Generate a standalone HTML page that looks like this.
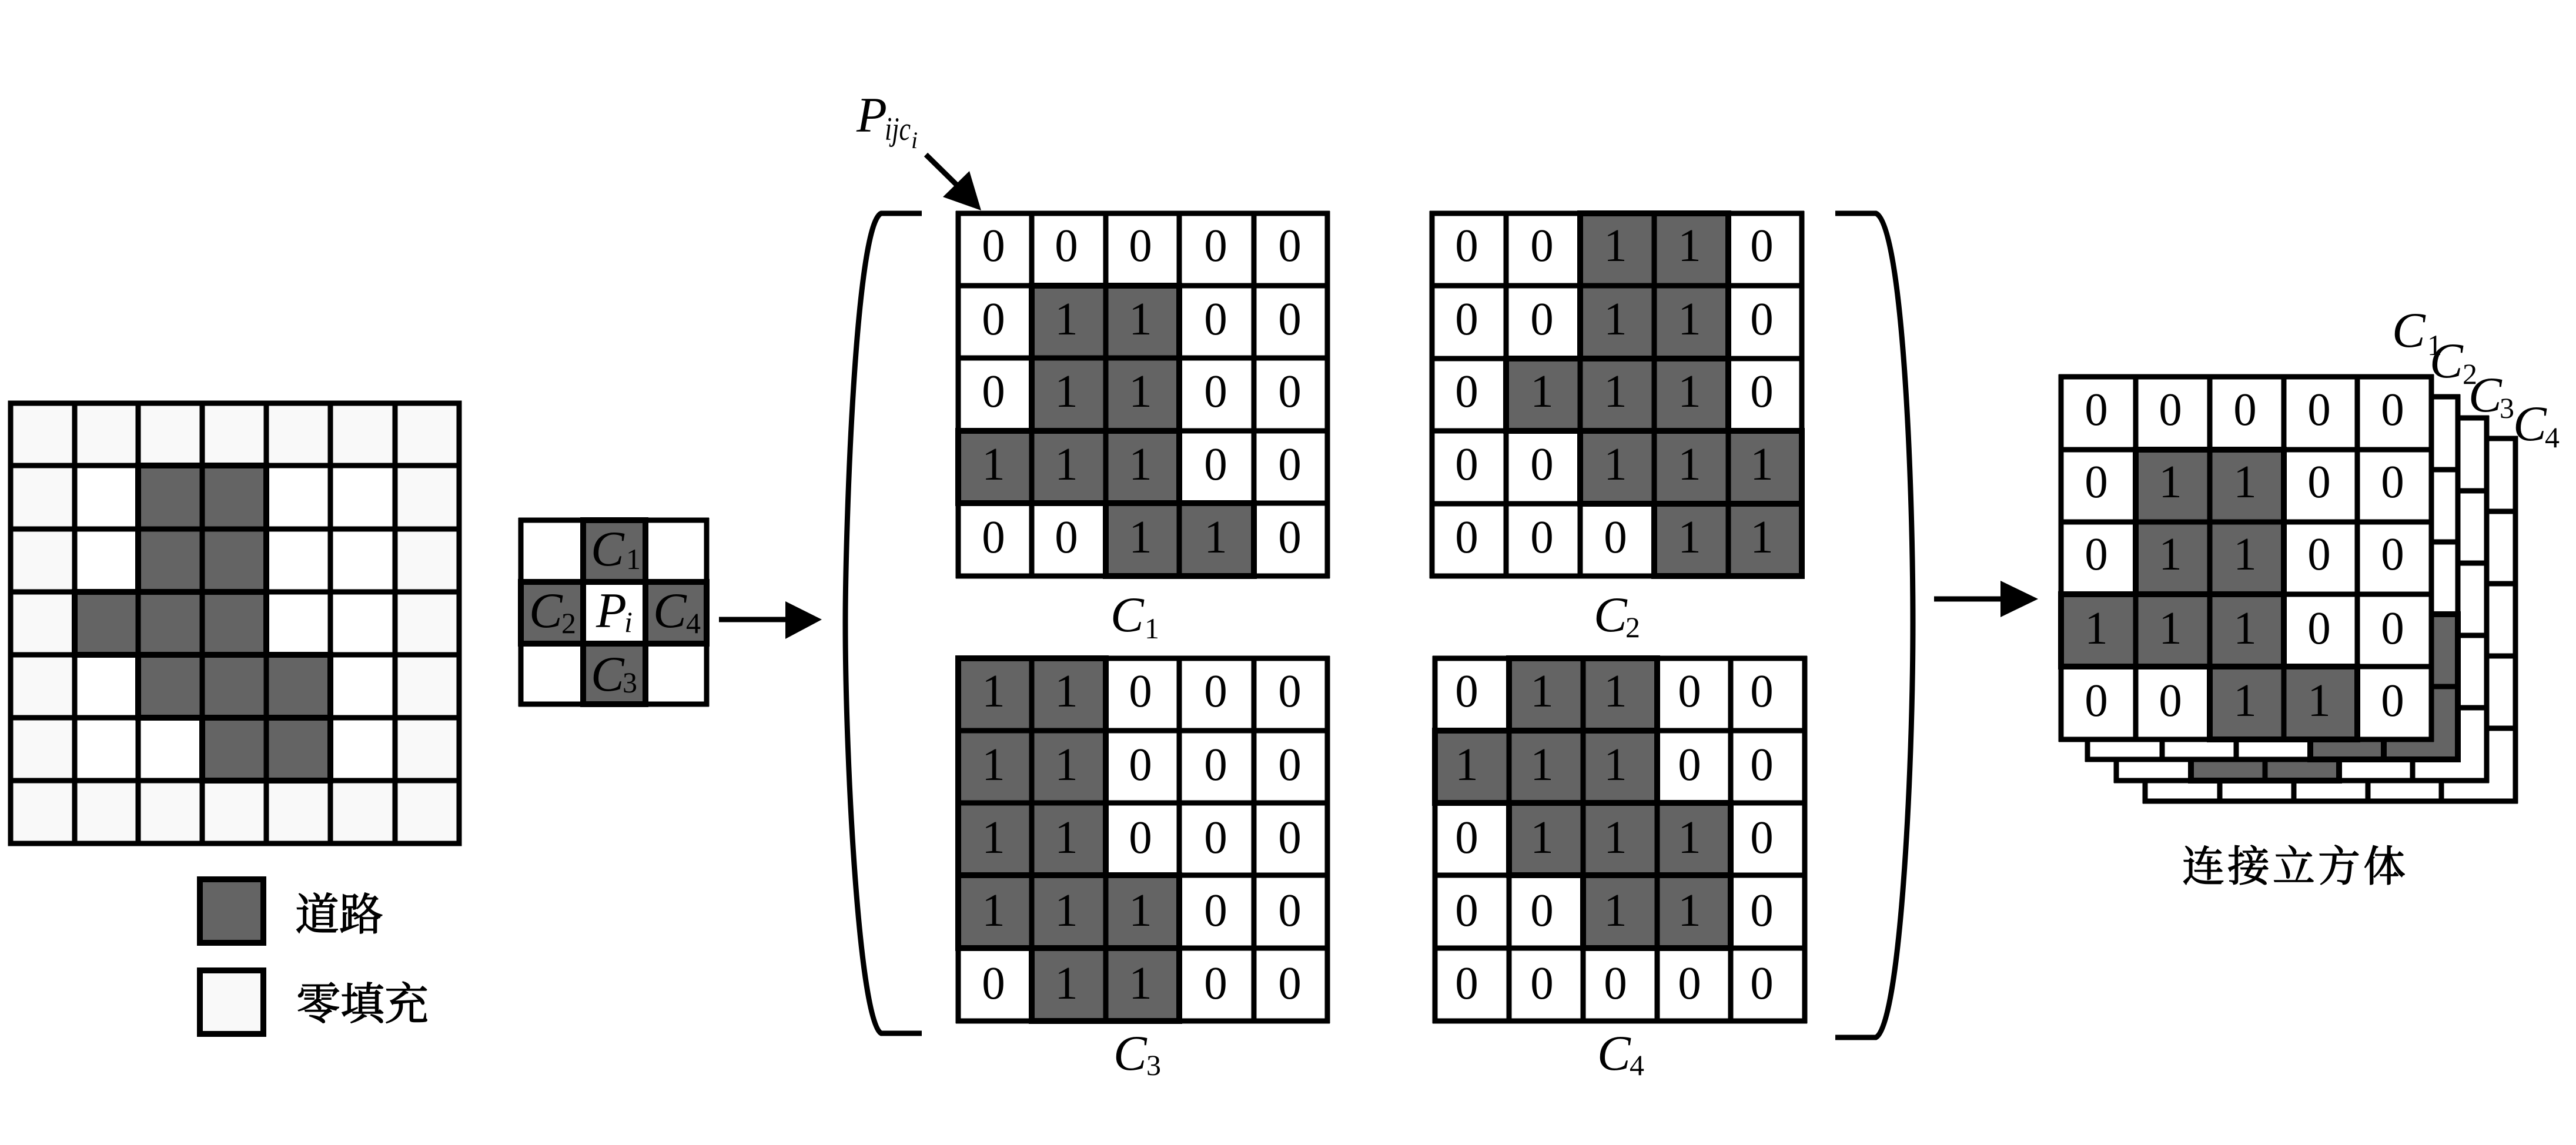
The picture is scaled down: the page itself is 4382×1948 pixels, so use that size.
<!DOCTYPE html>
<html><head><meta charset="utf-8"><style>
html,body{margin:0;padding:0;background:#fff}
svg{display:block}
.g{fill:#646464;stroke:#000;stroke-width:10}
.l{fill:none;stroke:#000;stroke-width:9}
.n{font-family:"Liberation Serif",serif;font-size:79px;text-anchor:middle;fill:#000}
.i{font-family:"Liberation Serif",serif;font-style:italic;font-size:85px;fill:#000}
.s{font-family:"Liberation Serif",serif;font-size:50px;fill:#000}
.z{font-family:"Liberation Serif","Noto Serif CJK SC",serif;fill:#000;stroke:#000;stroke-width:1.5}
</style></head><body>
<svg xmlns="http://www.w3.org/2000/svg" width="4382" height="1948" viewBox="0 0 4382 1948">
<rect width="4382" height="1948" fill="#fff"/>

<!-- Left map -->
<rect x="18" y="686" width="763" height="749" fill="#f9f9f9"/>
<rect x="127" y="792" width="545" height="536" fill="#fff"/>
<rect class="g" x="235" y="792" width="218" height="215"/>
<rect class="g" x="127" y="1007" width="326" height="107"/>
<rect class="g" x="235" y="1114" width="327" height="107"/>
<rect class="g" x="344" y="1221" width="218" height="107"/>
<path class="l" d="M18 686V1435M127 686V1435M235 686V1435M344 686V1435M453 686V1435M562 686V1435M672 686V1435M781 686V1435M13.500 686H785.500M14 792H785M14 900H785M14 1007H785M14 1114H785M14 1221H785M14 1328H785M13.500 1435H785.500"/>

<!-- Legend -->
<rect x="340" y="1496" width="108" height="108" fill="#646464" stroke="#000" stroke-width="10"/>
<rect x="340" y="1651" width="108" height="108" fill="#f9f9f9" stroke="#000" stroke-width="10"/>
<text class="z" x="502" y="1582" font-size="75">道路</text>
<text class="z" x="504" y="1734" font-size="75">零填充</text>

<!-- Neighbourhood -->
<rect class="g" x="992" y="885" width="106" height="105"/>
<rect class="g" x="886" y="990" width="106" height="105"/>
<rect class="g" x="1098" y="990" width="104" height="105"/>
<rect class="g" x="992" y="1095" width="106" height="103"/>
<path class="l" d="M886 881V1202M992 881V1202M1098 881V1202M1202 881V1202M882 885H1206M882 990H1206M882 1095H1206M882 1198H1206"/>
<text class="i" x="1005" y="962">C</text><text class="s" x="1065" y="968">1</text>
<text class="i" x="900" y="1067">C</text><text class="s" x="955" y="1077">2</text>
<text class="i" x="1014" y="1067">P</text><text class="s" x="1062" y="1075" font-style="italic">i</text>
<text class="i" x="1111" y="1067">C</text><text class="s" x="1167" y="1077">4</text>
<text class="i" x="1005" y="1175">C</text><text class="s" x="1059" y="1178">3</text>

<!-- Arrow 1 -->
<path class="l" d="M1223 1054H1345"/>
<path d="M1336 1023L1398 1054L1336 1087Z" fill="#000"/>

<!-- Brackets -->
<path class="l" d="M1568 363H1499C1455 380 1438 900 1438 1060C1438 1300 1462 1740 1499 1758H1568"/>
<path class="l" d="M3122 363H3191C3235 380 3254 800 3254 1060C3254 1320 3232 1745 3191 1765H3122"/>

<!-- P_ijc_i -->
<text class="i" x="1457" y="224">P</text>
<text class="s" x="1505" y="238" font-style="italic" style="font-size:56px" textLength="44" lengthAdjust="spacingAndGlyphs">ijc</text>
<text class="s" x="1550" y="252" font-style="italic" style="font-size:40px">i</text>
<path class="l" d="M1575 263L1632 319"/>
<path d="M1669 358L1604 335L1649 291Z" fill="#000"/>

<!-- C1 -->
<rect class="g" x="1755" y="486" width="251" height="247"/>
<rect class="g" x="1630" y="733" width="376" height="123"/>
<rect class="g" x="1881" y="856" width="252" height="124"/>
<path class="l" d="M1630 359V984M1755 359V984M1881 359V984M2006 359V984M2133 359V984M2258 359V984M1626 363H2262M1626 486H2262M1626 609H2262M1626 733H2262M1626 856H2262M1626 980H2262"/>
<text class="n" x="1690 1814 1940 2068 2194" y="444">00000</text>
<text class="n" x="1690 1814 1940 2068 2194" y="569">01100</text>
<text class="n" x="1690 1814 1940 2068 2194" y="692">01100</text>
<text class="n" x="1690 1814 1940 2068 2194" y="816">11100</text>
<text class="n" x="1690 1814 1940 2068 2194" y="940">00110</text>
<text class="i" x="1889" y="1074">C</text><text class="s" x="1947" y="1086">1</text>

<!-- C2 -->
<rect class="g" x="2688" y="363" width="252" height="247"/>
<rect class="g" x="2562" y="610" width="378" height="123"/>
<rect class="g" x="2688" y="733" width="377" height="124"/>
<rect class="g" x="2814" y="857" width="251" height="123"/>
<path class="l" d="M2436 359V984M2562 359V984M2688 359V984M2814 359V984M2940 359V984M3065 359V984M2432 363H3069M2432 486H3069M2432 610H3069M2432 733H3069M2432 857H3069M2432 980H3069"/>
<text class="n" x="2495 2623 2748 2874 2997" y="444">00110</text>
<text class="n" x="2495 2623 2748 2874 2997" y="569">00110</text>
<text class="n" x="2495 2623 2748 2874 2997" y="692">01110</text>
<text class="n" x="2495 2623 2748 2874 2997" y="816">00111</text>
<text class="n" x="2495 2623 2748 2874 2997" y="940">00011</text>
<text class="i" x="2711" y="1074">C</text><text class="s" x="2765" y="1084">2</text>

<!-- C3 -->
<rect class="g" x="1630" y="1120" width="251" height="369"/>
<rect class="g" x="1630" y="1489" width="376" height="124"/>
<rect class="g" x="1755" y="1613" width="251" height="124"/>
<path class="l" d="M1630 1116V1741M1755 1116V1741M1881 1116V1741M2006 1116V1741M2133 1116V1741M2258 1116V1741M1626 1120H2262M1626 1243H2262M1626 1366H2262M1626 1489H2262M1626 1613H2262M1626 1737H2262"/>
<text class="n" x="1690 1814 1940 2068 2194" y="1202">11000</text>
<text class="n" x="1690 1814 1940 2068 2194" y="1327">11000</text>
<text class="n" x="1690 1814 1940 2068 2194" y="1451">11000</text>
<text class="n" x="1690 1814 1940 2068 2194" y="1575">11100</text>
<text class="n" x="1690 1814 1940 2068 2194" y="1699">01100</text>
<text class="i" x="1894" y="1820">C</text><text class="s" x="1950" y="1829">3</text>

<!-- C4 -->
<rect class="g" x="2567" y="1120" width="252" height="123"/>
<rect class="g" x="2441" y="1243" width="378" height="123"/>
<rect class="g" x="2567" y="1366" width="377" height="123"/>
<rect class="g" x="2693" y="1489" width="251" height="124"/>
<path class="l" d="M2441 1116V1741M2567 1116V1741M2693 1116V1741M2819 1116V1741M2944 1116V1741M3070 1116V1741M2437 1120H3074M2437 1243H3074M2437 1366H3074M2437 1489H3074M2437 1613H3074M2437 1737H3074"/>
<text class="n" x="2495 2623 2748 2874 2997" y="1202">01100</text>
<text class="n" x="2495 2623 2748 2874 2997" y="1327">11100</text>
<text class="n" x="2495 2623 2748 2874 2997" y="1451">01110</text>
<text class="n" x="2495 2623 2748 2874 2997" y="1575">00110</text>
<text class="n" x="2495 2623 2748 2874 2997" y="1699">00000</text>
<text class="i" x="2717" y="1820">C</text><text class="s" x="2772" y="1829">4</text>

<!-- Arrow 2 -->
<path class="l" d="M3290 1019H3410"/>
<path d="M3403 988L3467 1019L3403 1050Z" fill="#000"/>

<!-- Cube back layers -->
<defs><path id="cl" class="l" d="M3506 637V1262M3633 637V1262M3759 637V1262M3885 637V1262M4010 637V1262M4136 637V1262M3502 641H4140M3502 765H4140M3502 888H4140M3502 1011H4140M3502 1134H4140M3502 1258H4140"/></defs>
<g transform="translate(143 105)"><rect x="3506" y="641" width="630" height="617" fill="#fff"/><use href="#cl"/></g>
<g transform="translate(94 70)"><rect x="3506" y="641" width="630" height="617" fill="#fff"/><rect class="g" x="3633" y="1134" width="252" height="124"/><use href="#cl"/></g>
<g transform="translate(45 34)"><rect x="3506" y="641" width="630" height="617" fill="#fff"/><rect class="g" x="4010" y="1011" width="126" height="247"/><rect class="g" x="3885" y="1134" width="125" height="124"/><use href="#cl"/></g>

<!-- Cube front -->
<rect x="3506" y="641" width="630" height="617" fill="#fff"/>
<rect class="g" x="3633" y="765" width="252" height="246"/>
<rect class="g" x="3506" y="1011" width="379" height="123"/>
<rect class="g" x="3759" y="1134" width="251" height="124"/>
<use href="#cl"/>
<text class="n" x="3566 3692 3819 3945 4070" y="723">00000</text>
<text class="n" x="3566 3692 3819 3945 4070" y="846">01100</text>
<text class="n" x="3566 3692 3819 3945 4070" y="969">01100</text>
<text class="n" x="3566 3692 3819 3945 4070" y="1095">11100</text>
<text class="n" x="3566 3692 3819 3945 4070" y="1218">00110</text>

<text class="i" x="4069" y="590">C</text><text class="s" x="4129" y="604">1</text>
<text class="i" x="4133" y="642">C</text><text class="s" x="4189" y="653">2</text>
<text class="i" x="4199" y="700">C</text><text class="s" x="4252" y="711">3</text>
<text class="i" x="4275" y="749">C</text><text class="s" x="4329" y="761">4</text>

<text class="z" x="3712" y="1499" font-size="72" letter-spacing="5">连接立方体</text>
</svg>
</body></html>
